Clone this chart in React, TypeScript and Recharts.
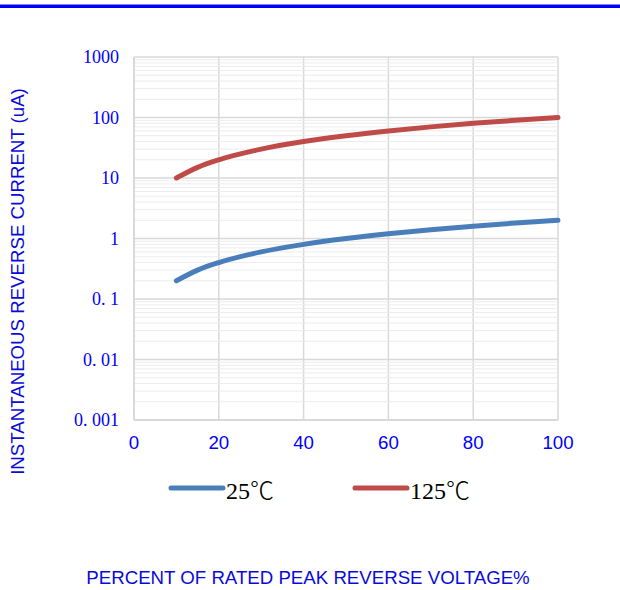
import React from 'react';
import { LineChart, Line, XAxis, YAxis, CartesianGrid, ReferenceLine, Legend } from 'recharts';

const xValues = [10, 15, 20, 30, 40, 50, 60, 70, 80, 90, 100];
const current25 = [0.2, 0.3, 0.4, 0.6, 0.8, 1.0, 1.2, 1.4, 1.6, 1.8, 2.0];
const current125 = [10, 15, 20, 30, 40, 50, 60, 70, 80, 90, 100];
const xTicks = [0, 20, 40, 60, 80, 100];
const yTicks = [0.001, 0.01, 0.1, 1, 10, 100, 1000];
const yTickLabels = ['0. 001', '0. 01', '0. 1', '1', '10', '100', '1000'];
const minorMultipliers = [2, 3, 4, 5, 6, 7, 8, 9];
const decades = [0.001, 0.01, 0.1, 1, 10, 100];

const data = xValues.map((x, i) => ({ x, t25: current25[i], t125: current125[i] }));
const minorLines: number[] = [];
decades.forEach((d) => minorMultipliers.forEach((m) => minorLines.push(+(d * m).toPrecision(3))));

const BLUE_TEXT = '#0000ff';
const SANS = '"Liberation Sans", Arial, sans-serif';

const YTick = (props: any) => {
  const { x, y, payload } = props;
  const idx = yTicks.indexOf(payload.value);
  return (
    <text x={x} y={y} dy={6} textAnchor="end" fill={BLUE_TEXT}
      style={{ fontFamily: '"Liberation Serif", serif', fontSize: 18 }}>
      {idx >= 0 ? yTickLabels[idx] : payload.value}
    </text>
  );
};

const XTick = (props: any) => {
  const { x, y, payload } = props;
  return (
    <text x={x} y={y} dy={21} textAnchor="middle" fill={BLUE_TEXT}
      style={{ fontFamily: SANS, fontSize: 18.67 }}>
      {payload.value}
    </text>
  );
};

const YTitle = (props: any) => {
  const { viewBox } = props;
  const cx = viewBox.x - 57;
  const cy = viewBox.y + viewBox.height / 2 + 43;
  return (
    <text x={cx} y={cy} transform={`rotate(-90 ${cx} ${cy})`} textAnchor="middle" dominantBaseline="central"
      fill="#0a0ad8" style={{ fontFamily: SANS, fontSize: 18.67 }}>
      INSTANTANEOUS REVERSE CURRENT (uA)
    </text>
  );
};

const XTitle = (props: any) => {
  const { viewBox } = props;
  const cx = viewBox.x + viewBox.width / 2 - 38;
  const cy = viewBox.y + 164;
  return (
    <text x={cx} y={cy} textAnchor="middle" fill="#0a0ad8"
      style={{ fontFamily: SANS, fontSize: 18.67 }}>
      PERCENT OF RATED PEAK REVERSE VOLTAGE%
    </text>
  );
};

const legendItems = [
  { key: 't25', label: '25℃', color: '#4a7ebb', left: 166 },
  { key: 't125', label: '125℃', color: '#be4b48', left: 350 },
];

const LegendContent = () => (
  <div style={{ position: 'relative', width: 620, height: 30 }}>
    {legendItems.map((it) => (
      <div key={it.key} style={{ position: 'absolute', left: it.left, top: 0, display: 'flex', alignItems: 'center', height: 28 }}>
        <svg width={60} height={10} style={{ display: 'block' }}>
          <line x1={5} y1={5} x2={57} y2={5} stroke={it.color} strokeWidth={5} strokeLinecap="round" />
        </svg>
        <span style={{ fontFamily: '"Liberation Serif", "Noto Sans CJK SC", serif', fontSize: 24, fontWeight: 300, color: '#000' }}>{it.label}</span>
      </div>
    ))}
  </div>
);

export default function App() {
  return (
    <div style={{ position: 'absolute', left: 0, top: 0, width: 620, height: 590, background: '#fff' }}>
      <LineChart width={620} height={590} data={data} margin={{ top: 57, right: 62, bottom: 100, left: 74 }}>
        {minorLines.map((v) => (
          <ReferenceLine key={v} y={v} stroke="#ececec" strokeWidth={1} ifOverflow="hidden" />
        ))}
        <CartesianGrid stroke="#d9d9d9" strokeWidth={1.5} />
        <XAxis dataKey="x" type="number" domain={[0, 100]} ticks={xTicks} tick={<XTick />} tickLine={false}
          axisLine={{ stroke: '#d9d9d9', strokeWidth: 2 }} height={40} label={<XTitle />} />
        <YAxis type="number" scale="log" domain={[0.001, 1000]} ticks={yTicks} tick={<YTick />} tickLine={false}
          tickMargin={9} axisLine={{ stroke: '#d9d9d9', strokeWidth: 2 }} width={60} allowDataOverflow label={<YTitle />} />
        <Line type="monotone" dataKey="t25" name="25℃" stroke="#4a7ebb" strokeWidth={5} dot={false} isAnimationActive={false} strokeLinecap="round" />
        <Line type="monotone" dataKey="t125" name="125℃" stroke="#be4b48" strokeWidth={5} dot={false} isAnimationActive={false} strokeLinecap="round" />
        <Legend content={<LegendContent />} wrapperStyle={{ position: 'absolute', top: 474, left: 0, width: 620, height: 30 }} />
      </LineChart>
      <div style={{ position: 'absolute', left: 0, top: 4, width: 620, height: 1, background: '#8080ff', zIndex: 10 }} />
      <div style={{ position: 'absolute', left: 0, top: 5, width: 620, height: 3, background: '#0000ff', zIndex: 10 }} />
    </div>
  );
}
